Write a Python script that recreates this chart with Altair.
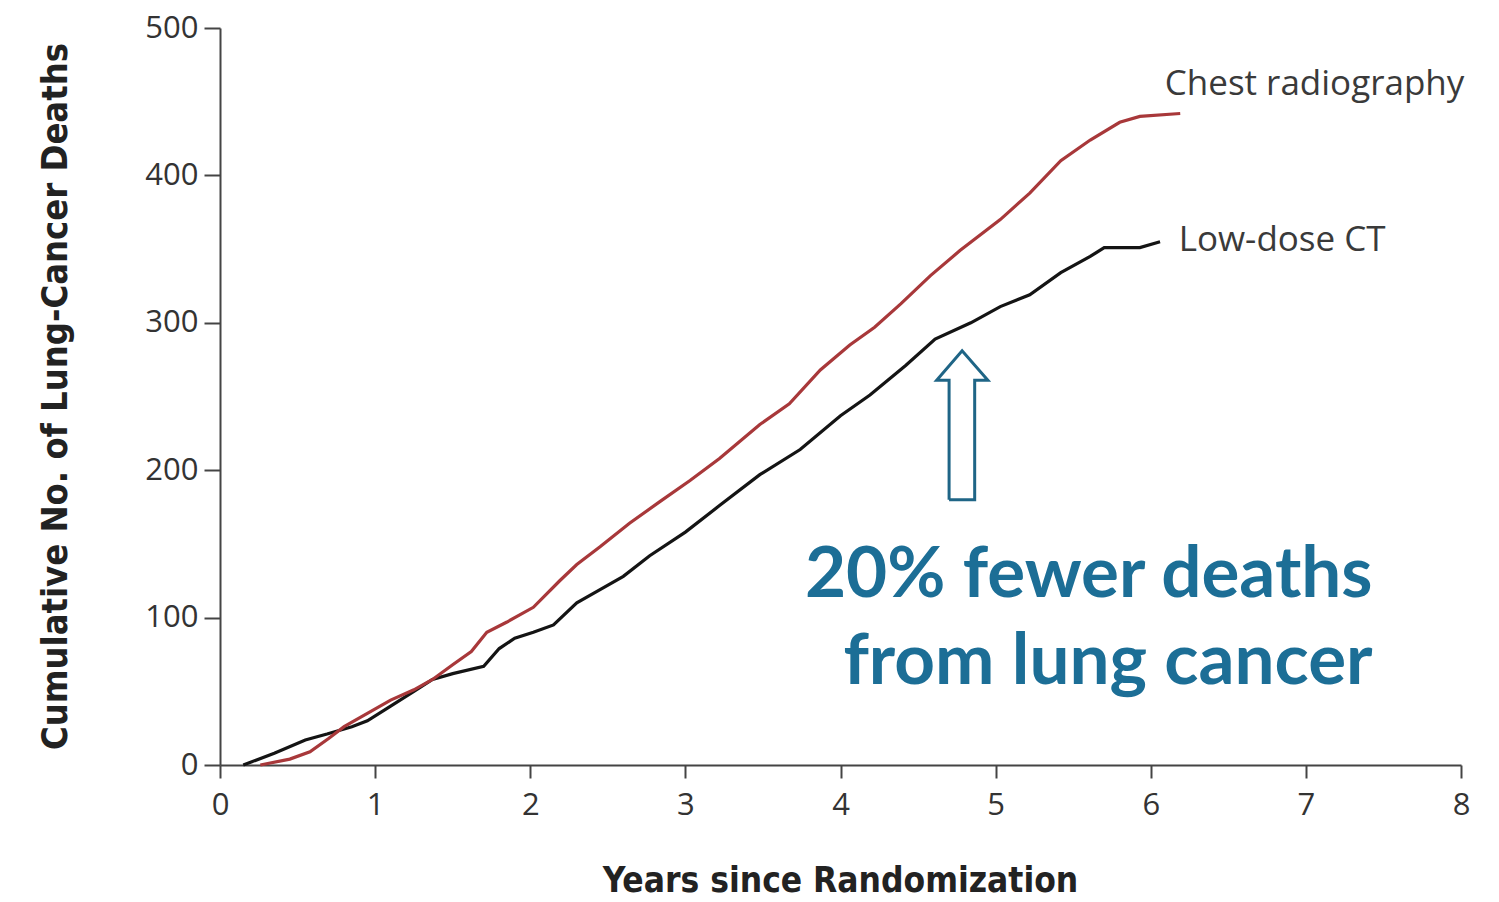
import altair as alt
import pandas as pd

# ---- data ----
ct_years = [0.15, 0.35, 0.55, 0.69, 0.85, 0.95, 1.1, 1.25, 1.37, 1.5, 1.7, 1.8, 1.9, 2.02, 2.15, 2.3, 2.45,
            2.6, 2.77, 3.0, 3.22, 3.48, 3.74, 4.0, 4.19, 4.42, 4.61, 4.84, 5.03, 5.22, 5.42, 5.61, 5.7,
            5.93, 6.06]
ct_deaths = [0, 8, 17, 21, 26, 30, 40, 50, 58, 62, 67, 79, 86, 90, 95, 110, 119,
             128, 142, 158, 176, 197, 214, 237, 251, 271, 289, 300, 311, 319, 334, 345, 351,
             351, 355]

cxr_years = [0.26, 0.45, 0.58, 0.7, 0.8, 0.95, 1.1, 1.25, 1.37, 1.5, 1.62, 1.72, 1.85, 2.02, 2.19, 2.3,
             2.45, 2.64, 2.84, 3.03, 3.22, 3.48, 3.67, 3.87, 4.06, 4.22, 4.39, 4.58, 4.77, 5.03, 5.22,
             5.42, 5.61, 5.8, 5.93, 6.19]
cxr_deaths = [0, 4, 9, 18, 26, 35, 44, 51, 58, 68, 77, 90, 97, 107, 125, 136,
              148, 164, 179, 193, 208, 231, 245, 268, 285, 297, 313, 332, 349, 370, 388,
              410, 424, 436, 440, 442]

series_names = ["Low-dose CT", "Chest radiography"]
series_colors = ["#141414", "#a8383a"]

x_ticks = [0, 1, 2, 3, 4, 5, 6, 7, 8]
y_ticks = [0, 100, 200, 300, 400, 500]

# annotation anchors (data units)
label_x = [6.09, 6.18]
label_y = [462, 356]
callout_lines = ["20% fewer deaths", "from lung cancer"]
callout_x = [7.43, 7.43]
callout_y = [128, 69]
arrow_x = [4.70, 4.865, 4.865, 4.95, 4.784, 4.62, 4.70, 4.70]
arrow_y = [180, 180, 261, 261, 281, 261, 261, 180]

# ---- tables ----
rows = []
for i, (yrs, vals) in enumerate([(ct_years, ct_deaths), (cxr_years, cxr_deaths)]):
    for k, (a, b) in enumerate(zip(yrs, vals)):
        rows.append({"series": series_names[i], "years": a, "deaths": b, "o": k})
df = pd.DataFrame(rows)

lab_df = pd.DataFrame({"series": ["Chest radiography", "Low-dose CT"], "x": label_x, "y": label_y})
call_df = pd.DataFrame({"t": callout_lines, "x": callout_x, "y": callout_y})
arr_df = pd.DataFrame({"x": arrow_x, "y": arrow_y, "o": list(range(len(arrow_x)))})

xs = alt.Scale(domain=[0, 8], nice=False, zero=False)
ys = alt.Scale(domain=[0, 500], nice=False)

TITLE_FONT = "DejaVu Sans Condensed, Roboto, sans-serif"
LABEL_FONT = "Open Sans, sans-serif"

x_axis = alt.Axis(values=x_ticks, format="d", title="Years since Randomization",
                  grid=False, domainColor="#444", domainWidth=2, tickColor="#444", tickWidth=2,
                  tickSize=13, labelPadding=12, labelFontSize=31, labelColor="#333", labelFlush=False,
                  labelFont=LABEL_FONT, titleFont=TITLE_FONT,
                  titleFontSize=35, titleFontWeight="bold", titleColor="#222",
                  titleX=620, titleY=115, titleBaseline="middle", titleAlign="center")
y_axis = alt.Axis(values=y_ticks, format="d", title="Cumulative No. of Lung-Cancer Deaths",
                  grid=False, domainColor="#444", domainWidth=2, tickColor="#444", tickWidth=2,
                  tickSize=16, labelPadding=6, labelFontSize=31, labelColor="#333", labelFlush=False,
                  labelFont=LABEL_FONT, titleFont=TITLE_FONT,
                  titleFontSize=36, titleFontWeight="bold", titleColor="#222",
                  titleX=-165, titleY=368, titleAngle=-90, titleBaseline="middle", titleAlign="center")

lines = alt.Chart(df).mark_line(strokeWidth=3.2, interpolate="linear").encode(
    x=alt.X("years:Q", scale=xs, axis=x_axis),
    y=alt.Y("deaths:Q", scale=ys, axis=y_axis),
    color=alt.Color("series:N", scale=alt.Scale(domain=series_names, range=series_colors), legend=None),
    order="o:Q",
)

labels = alt.Chart(lab_df).mark_text(align="left", baseline="middle", fontSize=35,
                                     font="Open Sans", color="#3a3a3a").encode(
    x=alt.X("x:Q", scale=xs), y=alt.Y("y:Q", scale=ys), text="series:N")

callout = alt.Chart(call_df).mark_text(align="right", baseline="middle", fontSize=71,
                                       font="Lato", fontWeight="bold", color="#1c6e96").encode(
    x=alt.X("x:Q", scale=xs), y=alt.Y("y:Q", scale=ys), text="t:N")

arrow = alt.Chart(arr_df).mark_line(strokeWidth=3, color="#1f6586", strokeJoin="miter").encode(
    x=alt.X("x:Q", scale=xs), y=alt.Y("y:Q", scale=ys), order="o:Q")

chart = alt.layer(lines, labels, callout, arrow).properties(
    width=1241, height=737,
    autosize=alt.AutoSizeParams(type="none"),
    padding={"left": 220, "top": 28, "right": 38, "bottom": 137},
    background="white",
).configure_view(stroke=None)

chart.save("out.html", embed_options={"renderer": "svg", "actions": False})
